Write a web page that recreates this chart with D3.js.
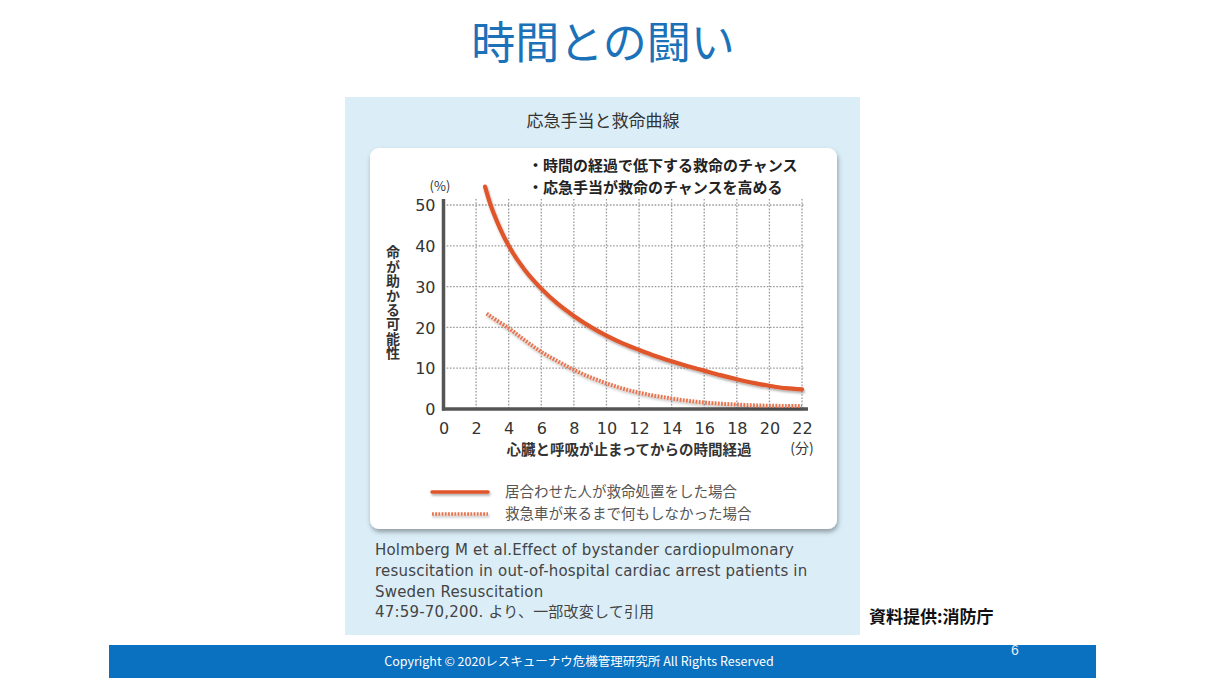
<!DOCTYPE html>
<html><head><meta charset="utf-8">
<script src="https://cdn.jsdelivr.net/npm/d3@7"></script>
<style>
html,body{margin:0;padding:0;background:#fff;}
svg{display:block;}
</style></head>
<body>
<svg id="c" width="1205" height="678"></svg>
<script>
// ---- data ----
const xTicks = [0,2,4,6,8,10,12,14,16,18,20,22];
const yTicks = [0,10,20,30,40,50];
const withCPR = [[2.55,54.5],[3,48.8],[4,40],[5,34],[6,29.5],[7,25.8],[8,22.8],[9,20.2],[10,18],[11,16.1],[12,14.5],[13,13],[14,11.7],[15,10.5],[16,9.4],[17,8.3],[18,7.3],[19,6.4],[20,5.7],[21,5.1],[22,4.8]];
const noCPR = [[2.65,23.4],[3,22.4],[4,19.8],[5,16.8],[6,14.0],[7,11.7],[8,9.6],[9,7.8],[10,6.3],[11,5.0],[12,4.0],[13,3.2],[14,2.6],[15,2.0],[16,1.6],[17,1.3],[18,1.1],[19,0.9],[20,0.8],[21,0.75],[22,0.7]];
const seriesNames = ["居合わせた人が救命処置をした場合","救急車が来るまで何もしなかった場合"];
const bullets = ["・時間の経過で低下する救命のチャンス","・応急手当が救命のチャンスを高める"];
const citation = ["Holmberg M et al.Effect of bystander cardiopulmonary","resuscitation in out-of-hospital cardiac arrest patients in","Sweden Resuscitation","47:59-70,200. より、一部改変して引用"];

const svg = d3.select("#c");
const jp = "'Noto Sans CJK JP','Noto Sans',sans-serif";
const defs = svg.append("defs");
const f = defs.append("filter").attr("id","sh").attr("x","-5%").attr("y","-5%").attr("width","110%").attr("height","115%");
f.append("feDropShadow").attr("dx",1).attr("dy",3).attr("stdDeviation",2.5).attr("flood-color","#000").attr("flood-opacity",0.35);
const f2 = defs.append("filter").attr("id","lsh").attr("filterUnits","userSpaceOnUse")
  .attr("x",0).attr("y",0).attr("width",1205).attr("height",678);
f2.append("feDropShadow").attr("dx",1).attr("dy",2).attr("stdDeviation",1.2).attr("flood-color","#000").attr("flood-opacity",0.3);

// slide title
svg.append("text").attr("x",603).attr("y",59).attr("text-anchor","middle")
  .attr("font-family",jp).attr("font-size",44).attr("fill","#1c72b8").text("時間との闘い");

// panel
svg.append("rect").attr("x",345).attr("y",97).attr("width",515).attr("height",538).attr("fill","#dbeef8");
svg.append("text").attr("x",603).attr("y",127).attr("text-anchor","middle")
  .attr("font-family",jp).attr("font-size",17).attr("fill","#333").text("応急手当と救命曲線");

// card
svg.append("rect").attr("x",370).attr("y",148).attr("width",467).attr("height",381).attr("rx",9)
  .attr("fill","#fff").attr("filter","url(#sh)");

bullets.forEach((b,i)=>{
  svg.append("text").attr("x",528).attr("y",171+i*22).attr("font-family",jp).attr("font-size",15)
    .attr("font-weight",700).attr("fill","#222").text(b);
});

// scales
const x = d3.scaleLinear().domain([0,22]).range([443.5,802]);
const y = d3.scaleLinear().domain([0,50]).range([409,205]);

// grid
const g = svg.append("g");
g.selectAll(".vg").data(xTicks.filter(d=>d>0)).enter().append("line")
  .attr("x1",d=>x(d)).attr("x2",d=>x(d)).attr("y1",y(50)-6).attr("y2",y(0))
  .attr("stroke","#9a9a9a").attr("stroke-width",1.3).attr("stroke-dasharray","1.6,1.6");
g.selectAll(".hg").data(yTicks.filter(d=>d>0)).enter().append("line")
  .attr("x1",x(0)).attr("x2",x(22)+2).attr("y1",d=>y(d)).attr("y2",d=>y(d))
  .attr("stroke","#9a9a9a").attr("stroke-width",1.3).attr("stroke-dasharray","1.6,1.6");

// axes
const xa = d3.axisBottom(x).tickValues(xTicks).tickSize(0).tickPadding(10);
const ya = d3.axisLeft(y).tickValues(yTicks).tickSize(0).tickPadding(8);
const gx = svg.append("g").attr("transform",`translate(0,${y(0)})`).call(xa);
gx.select(".domain").remove();
gx.selectAll("text").attr("font-family","'DejaVu Sans',sans-serif").attr("font-size",16).attr("fill","#333").attr("dy","0.95em");
const gy = svg.append("g").attr("transform",`translate(${x(0)},0)`).call(ya);
gy.select(".domain").remove();
gy.selectAll("text").attr("font-family","'DejaVu Sans',sans-serif").attr("font-size",16).attr("fill","#333").attr("dy","0.35em");

svg.append("line").attr("x1",x(0)).attr("x2",x(0)).attr("y1",y(50)-6).attr("y2",y(0)+1.5)
  .attr("stroke","#555").attr("stroke-width",3.5);
svg.append("line").attr("x1",x(0)-1.5).attr("x2",x(22)+6).attr("y1",y(0)).attr("y2",y(0))
  .attr("stroke","#555").attr("stroke-width",3.5);

svg.append("text").attr("x",440).attr("y",191).attr("text-anchor","middle").attr("font-family",jp)
  .attr("font-size",13).attr("fill","#333").text("(%)");

// y axis title (vertical)
svg.append("text").attr("x",393).attr("y",245).attr("font-family",jp).attr("font-size",14)
  .attr("font-weight",700).attr("fill","#333").attr("letter-spacing",0.4)
  .style("writing-mode","vertical-rl").style("text-orientation","upright")
  .text("命が助かる可能性");

// x axis title
svg.append("text").attr("x",629).attr("y",455).attr("text-anchor","middle").attr("font-family",jp)
  .attr("font-size",14.5).attr("font-weight",700).attr("fill","#333").text("心臓と呼吸が止まってからの時間経過");
svg.append("text").attr("x",802).attr("y",453).attr("text-anchor","middle").attr("font-family",jp)
  .attr("font-size",14).attr("fill","#333").text("(分)");

// curves
const line = d3.line().x(d=>x(d[0])).y(d=>y(d[1])).curve(d3.curveCatmullRom);
svg.append("path").datum(noCPR).attr("d",line).attr("fill","none").attr("stroke","#e8744f")
  .attr("stroke-width",4).attr("stroke-dasharray","1.8,1.4").attr("filter","url(#lsh)");
svg.append("path").datum(withCPR).attr("d",line).attr("fill","none").attr("stroke","#e0552a")
  .attr("stroke-width",4.2).attr("stroke-linecap","round").attr("filter","url(#lsh)");

// legend
const ly = [492,514];
svg.append("line").attr("x1",432).attr("x2",488).attr("y1",ly[0]).attr("y2",ly[0]).attr("stroke","#e0552a")
  .attr("stroke-width",3.5).attr("stroke-linecap","round").attr("filter","url(#lsh)");
svg.append("line").attr("x1",432).attr("x2",488).attr("y1",ly[1]).attr("y2",ly[1]).attr("stroke","#e8744f")
  .attr("stroke-width",3.5).attr("stroke-dasharray","1.8,1.4").attr("filter","url(#lsh)");
seriesNames.forEach((n,i)=>{
  svg.append("text").attr("x",505).attr("y",ly[i]+5).attr("font-family",jp).attr("font-size",14.5)
    .attr("fill","#555").text(n);
});

// citation
citation.forEach((t,i)=>{
  svg.append("text").attr("x",375).attr("y",555+i*20.8).attr("font-family","'DejaVu Sans','Noto Sans CJK JP',sans-serif")
    .attr("font-size",15).attr("letter-spacing",0.2).attr("fill","#444").text(t);
});

svg.append("text").attr("x",869).attr("y",623).attr("font-family",jp).attr("font-size",17)
  .attr("font-weight",700).attr("fill","#111").text("資料提供:消防庁");

// footer
svg.append("rect").attr("x",109).attr("y",645).attr("width",987).attr("height",33).attr("fill","#0a70c0");
svg.append("text").attr("x",579).attr("y",666).attr("text-anchor","middle").attr("font-family",jp)
  .attr("font-size",12.5).attr("fill","#fff").text("Copyright © 2020レスキューナウ危機管理研究所 All Rights Reserved");
svg.append("text").attr("x",1015).attr("y",655).attr("text-anchor","middle").attr("font-family","'Liberation Sans',sans-serif")
  .attr("font-size",14).attr("fill","#e8eef5").text("6");
</script>
</body></html>
